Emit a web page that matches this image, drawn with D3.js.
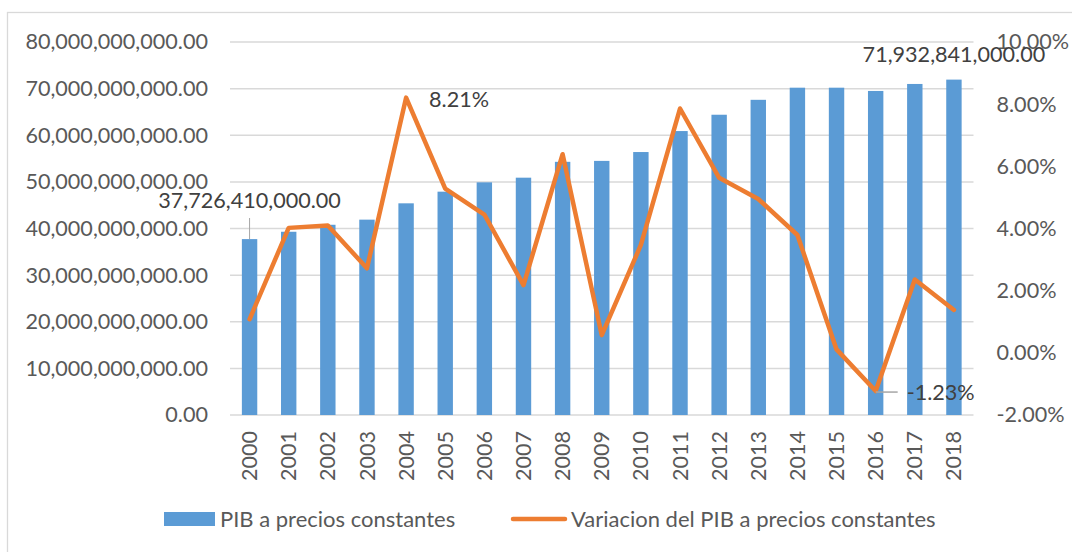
<!DOCTYPE html>
<html>
<head>
<meta charset="utf-8">
<script src="https://cdn.jsdelivr.net/npm/d3@7/dist/d3.min.js"></script>
<style>
  body { margin: 0; background: #fff; }
  text { font-family: Lato, "Open Sans", sans-serif; fill: #595959; }
</style>
</head>
<body>
<svg id="chart" width="1072" height="552"></svg>
<script>
// ----------------------
// 1. Data
// ----------------------
const years = ["2000", "2001", "2002", "2003", "2004", "2005", "2006", "2007", "2008", "2009",
               "2010", "2011", "2012", "2013", "2014", "2015", "2016", "2017", "2018"];
const pib = [37726410000, 39300000000, 40800000000, 41900000000, 45400000000, 47900000000,
             49900000000, 50900000000, 54300000000, 54500000000, 56400000000, 60900000000,
             64400000000, 67600000000, 70200000000, 70200000000, 69500000000, 71000000000,
             71932841000];
const variacion = [0.0108, 0.0402, 0.0410, 0.0272, 0.0821, 0.0528, 0.0445, 0.0218, 0.0639, 0.0057,
                   0.0347, 0.0786, 0.0563, 0.0495, 0.0379, 0.0011, -0.0123, 0.0236, 0.0138];
const leftTicks = [0, 10e9, 20e9, 30e9, 40e9, 50e9, 60e9, 70e9, 80e9];
const rightTicks = [-0.02, 0, 0.02, 0.04, 0.06, 0.08, 0.10];
const seriesNames = ["PIB a precios constantes", "Variacion del PIB a precios constantes"];

const blue = "#5B9BD5";
const orange = "#ED7D31";
const grid = "#d9d9d9";

// plain hyphen minus, like Excel
const loc = d3.formatLocale({ decimal: ".", thousands: ",", grouping: [3], currency: ["$", ""], minus: "-" });
const fmtNum = loc.format(",.2f");
const fmtPct = loc.format(".2%");

// ----------------------
// 2. Layout
// ----------------------
const svg = d3.select("#chart");
const plot = { left: 230, right: 973.5, top: 42, bottom: 415 };
const fs = "21.6px";

// outer chart border
svg.append("rect")
    .attr("x", 7.5).attr("y", 12.5)
    .attr("width", 1080).attr("height", 600)
    .attr("fill", "none")
    .attr("stroke", grid)
    .attr("stroke-width", 1.3);

const xc = d3.scaleBand().domain(years).range([plot.left, plot.right]);
const yL = d3.scaleLinear().domain([0, 80e9]).range([plot.bottom, plot.top]);
const yR = d3.scaleLinear().domain([-0.02, 0.10]).range([plot.bottom, plot.top]);

// gridlines
svg.append("g").selectAll("line")
    .data(leftTicks)
    .join("line")
    .attr("x1", plot.left).attr("x2", plot.right)
    .attr("y1", d => yL(d)).attr("y2", d => yL(d))
    .attr("stroke", grid)
    .attr("stroke-width", 1.5);

// left axis
const yLAxis = svg.append("g")
    .attr("transform", `translate(${plot.left},0)`)
    .call(d3.axisLeft(yL).tickValues(leftTicks).tickFormat(fmtNum).tickSize(0).tickPadding(22));
yLAxis.select(".domain").remove();
yLAxis.selectAll("text").style("font-size", fs).attr("font-family", null).attr("fill", "#595959");

// right axis
const yRAxis = svg.append("g")
    .attr("transform", `translate(${plot.right},0)`)
    .call(d3.axisRight(yR).tickValues(rightTicks).tickFormat(fmtPct).tickSize(0).tickPadding(23));
yRAxis.select(".domain").remove();
yRAxis.selectAll("text").style("font-size", fs).attr("font-family", null).attr("fill", "#595959");

// x axis (rotated years)
const xAxis = svg.append("g")
    .attr("transform", `translate(0,${plot.bottom})`)
    .call(d3.axisBottom(xc).tickSize(0));
xAxis.select(".domain").remove();
xAxis.selectAll("text")
    .attr("font-family", null)
    .attr("fill", "#595959")
    .style("font-size", fs)
    .attr("transform", "rotate(-90)")
    .attr("text-anchor", "end")
    .attr("x", -16)
    .attr("y", 0)
    .attr("dy", "0.35em");

// ----------------------
// 3. Bars + line
// ----------------------
svg.append("g").selectAll("rect")
    .data(years)
    .join("rect")
    .attr("x", d => xc(d) + (xc.bandwidth() - 15.4) / 2)
    .attr("width", 15.4)
    .attr("y", (d, i) => yL(pib[i]))
    .attr("height", (d, i) => plot.bottom - yL(pib[i]))
    .attr("fill", blue);

const line = d3.line()
    .x((d, i) => xc(years[i]) + xc.bandwidth() / 2)
    .y(d => yR(d));

svg.append("path")
    .datum(variacion)
    .attr("d", line)
    .attr("fill", "none")
    .attr("stroke", orange)
    .attr("stroke-width", 4.5)
    .attr("stroke-linejoin", "round")
    .attr("stroke-linecap", "round");

// ----------------------
// 4. Data labels
// ----------------------
const cx = i => xc(years[i]) + xc.bandwidth() / 2;
const lab = svg.append("g").style("font-size", fs);

// first bar
lab.append("line")
    .attr("x1", cx(0)).attr("x2", cx(0))
    .attr("y1", 218).attr("y2", yL(pib[0]))
    .attr("stroke", "#a6a6a6");
lab.append("text")
    .attr("x", cx(0)).attr("y", 208)
    .attr("text-anchor", "middle")
    .style("fill", "#404040")
    .text(fmtNum(pib[0]));

// last bar
lab.append("text")
    .attr("x", cx(18)).attr("y", 62)
    .attr("text-anchor", "middle")
    .style("fill", "#404040")
    .text(fmtNum(pib[18]));

// 2004 peak
lab.append("text")
    .attr("x", cx(4) + 23).attr("y", yR(variacion[4]) + 9)
    .style("fill", "#404040")
    .text(fmtPct(variacion[4]));

// 2016 low
lab.append("line")
    .attr("x1", cx(16)).attr("x2", cx(16) + 22)
    .attr("y1", yR(variacion[16]) + 1).attr("y2", yR(variacion[16]) + 1)
    .attr("stroke", "#a6a6a6").attr("stroke-width", 1.5);
lab.append("text")
    .attr("x", cx(16) + 31).attr("y", yR(variacion[16]) + 9)
    .style("fill", "#404040")
    .text(fmtPct(variacion[16]));

// ----------------------
// 5. Legend
// ----------------------
const leg = svg.append("g").style("font-size", "22px");
leg.append("rect")
    .attr("x", 164).attr("y", 512)
    .attr("width", 51).attr("height", 14)
    .attr("fill", blue);
leg.append("text")
    .attr("x", 220).attr("y", 519).attr("dy", "0.35em")
    .text(seriesNames[0]);
leg.append("line")
    .attr("x1", 513).attr("x2", 565)
    .attr("y1", 519).attr("y2", 519)
    .attr("stroke", orange)
    .attr("stroke-width", 4.5)
    .attr("stroke-linecap", "round");
leg.append("text")
    .attr("x", 571).attr("y", 519).attr("dy", "0.35em")
    .text(seriesNames[1]);
</script>
</body>
</html>
